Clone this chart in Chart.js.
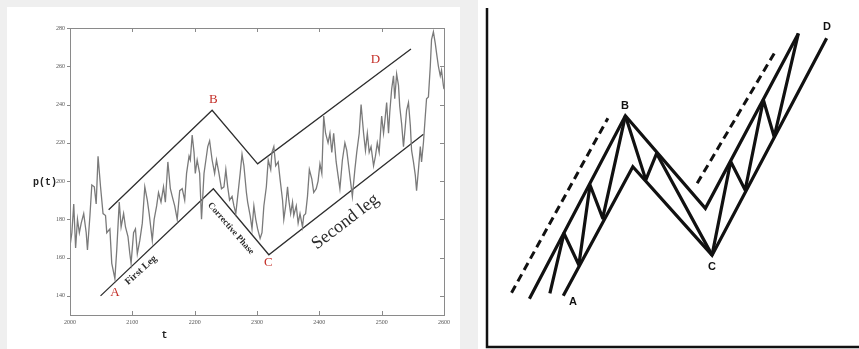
<!DOCTYPE html>
<html>
<head>
<meta charset="utf-8">
<script src="https://cdn.jsdelivr.net/npm/chart.js@4/dist/chart.umd.min.js"></script>
<style>
  html, body { margin: 0; padding: 0; width: 859px; height: 349px; overflow: hidden; background: #efefef; }
  #leftPanel { position: absolute; left: 7px; top: 7px; width: 453px; height: 342px; background: #ffffff; }
  #rightPanel { position: absolute; left: 478px; top: 0; width: 381px; height: 349px; background: #ffffff; }
  #priceChart { position: absolute; left: 0; top: 0; }
  #waveChart { position: absolute; left: 480px; top: 0; }
</style>
</head>
<body>
<div id="leftPanel"></div>
<div id="rightPanel"></div>
<canvas id="priceChart" width="460" height="349" style="width:460px;height:349px"></canvas>
<canvas id="waveChart" width="379" height="349" style="width:379px;height:349px"></canvas>

<script>
// ---- price path p(t) ----
const tValues = [2000,2003,2006,2009,2012,2015,2018,2022,2026,2028,2032,2035,2039,2042,2045,2049,2053,2057,2059,2064,
  2067,2072,2075,2079,2082,2086,2089,2093,2096,2098,2102,2105,2108,2112,2116,2120,2124,2127,2132,2135,
  2139,2142,2146,2150,2153,2157,2161,2164,2168,2172,2176,2180,2184,2187,2191,2193,2196,2199,2201,2204,
  2208,2211,2215,2218,2221,2224,2228,2232,2235,2239,2243,2247,2250,2253,2256,2260,2263,2266,2269,2273,
  2276,2279,2283,2285,2289,2292,2295,2298,2301,2305,2308,2311,2315,2318,2322,2324,2327,2330,2334,2337,
  2341,2343,2346,2349,2351,2354,2357,2359,2363,2366,2369,2373,2375,2378,2381,2384,2388,2391,2395,2398,
  2401,2404,2407,2410,2414,2417,2420,2423,2427,2430,2433,2437,2441,2444,2447,2450,2453,2457,2460,2464,
  2467,2471,2474,2477,2480,2483,2487,2490,2493,2496,2500,2503,2505,2508,2511,2513,2516,2519,2521,2524,
  2527,2529,2532,2535,2538,2540,2543,2546,2548,2551,2554,2556,2559,2562,2564,2567,2570,2572,2575,2578,
  2580,2583,2586,2588,2591,2594,2596,2599,2600];
const pValues = [166,173,188,165,180,173,178,183,173,164,182,198,197,188,213,197,183,182,173,175,
  157,149,164,189,176,183,176,171,162,157,173,175,162,169,178,197,190,183,169,180,
  187,194,189,197,189,210,196,192,187,180,195,196,190,204,213,211,224,215,204,211,
  204,180,204,211,218,221,211,204,211,204,196,197,206,197,190,192,187,183,192,204,
  214,208,194,189,182,175,187,180,175,170,173,187,197,211,206,215,218,208,210,201,
  190,180,187,197,190,183,189,182,187,178,183,176,182,183,192,206,201,194,196,200,
  209,204,234,225,220,225,215,225,210,203,196,211,220,216,208,200,192,206,215,225,
  240,225,216,225,215,218,208,213,220,215,234,225,231,241,225,236,248,255,243,256,
  250,239,230,218,229,237,241,229,216,210,203,195,206,218,210,220,234,243,244,260,
  274,278,272,267,260,255,258,250,248];

// channel boundaries drawn over the path
const upperChannelT = [2062, 2228, 2301, 2547];
const upperChannelP = [185, 237, 209, 269];
const lowerChannelT = [2049, 2230, 2319, 2567];
const lowerChannelP = [140, 196, 161.5, 224.5];

// turning-point letters
const markLabels = ['A', 'B', 'C', 'D'];
const markT = [2072, 2230, 2318, 2490];
const markP = [141.6, 242.6, 157.3, 263.5];

// phase captions along the channel
const phaseLabels = ['First Leg', 'Corrective Phase', 'Second leg'];
const phaseT = [2114, 2258, 2442];
const phaseP = [153.4, 175.2, 178.7];

// axis ticks
const tTicks = [2000, 2100, 2200, 2300, 2400, 2500, 2600];
const pTicks = [140, 160, 180, 200, 220, 240, 260, 280];

// ---- schematic wave (right) ----
const dashLeftX = [6.6, 32.5],  dashLeftY = [16.0, 67.5];
const dashRightX = [56.5, 77.2], dashRightY = [48.3, 86.6];
const upperEdgeX = [11.4, 37.2, 58.7, 83.7], upperEdgeY = [14.2, 68.2, 40.9, 92.5];
const lowerEdgeX = [20.5, 39.2, 60.5, 91.3], lowerEdgeY = [15.1, 53.2, 27.1, 91.1];
const firstLegX = [16.9, 20.7, 24.7, 27.7, 31.1, 37.2], firstLegY = [15.8, 33.5, 24.2, 47.8, 38.0, 68.2];
const correctionX = [37.2, 42.7, 45.6, 60.5], correctionY = [68.2, 49.3, 57.1, 27.1];
const secondLegX = [60.5, 65.5, 69.4, 74.3, 77.2, 83.7], secondLegY = [27.1, 54.7, 46.3, 72.9, 62.0, 92.5];
const waveLabels = ['A', 'B', 'C', 'D'];
const waveLabelX = [23.1, 37.1, 60.5, 91.4];
const waveLabelY = [13.3, 71.1, 23.6, 94.4];

const pairs = (xs, ys) => xs.map((x, i) => ({ x: x, y: ys[i] }));

// box around the plot with inward tick marks, plus axis names
const framePlugin = {
  id: 'frame',
  afterDraw(chart) {
    const { ctx, chartArea: a, scales: { x, y } } = chart;
    ctx.save();
    ctx.strokeStyle = '#8a8a8a';
    ctx.lineWidth = 1;
    ctx.strokeRect(Math.round(a.left) + 0.5, Math.round(a.top) + 0.5,
                   Math.round(a.right - a.left), Math.round(a.bottom - a.top));
    ctx.beginPath();
    tTicks.forEach(v => {
      const px = Math.round(x.getPixelForValue(v)) + 0.5;
      ctx.moveTo(px, a.top); ctx.lineTo(px, a.top + 4);
      ctx.moveTo(px, a.bottom); ctx.lineTo(px, a.bottom - 4);
    });
    pTicks.forEach(v => {
      const py = Math.round(y.getPixelForValue(v)) + 0.5;
      ctx.moveTo(a.left - 3, py); ctx.lineTo(a.left, py);
      ctx.moveTo(a.right, py); ctx.lineTo(a.right - 4, py);
    });
    ctx.stroke();
    ctx.fillStyle = '#222';
    ctx.font = 'bold 10px "Liberation Mono"';
    ctx.textBaseline = 'middle';
    ctx.textAlign = 'left';
    ctx.fillText('p(t)', 33, y.getPixelForValue(200) + 1);
    ctx.textAlign = 'center';
    ctx.fillText('t', (x.getPixelForValue(2300) + x.getPixelForValue(2000)) / 2 + 1, 335);
    ctx.restore();
  }
};

// letters at turning points and captions along the legs
const notesPlugin = {
  id: 'notes',
  afterDatasetsDraw(chart) {
    const { ctx, scales: { x, y } } = chart;
    ctx.save();
    ctx.textAlign = 'center';
    ctx.textBaseline = 'middle';
    ctx.fillStyle = '#c42e27';
    ctx.font = '13px "Liberation Serif"';
    markLabels.forEach((s, i) => ctx.fillText(s, x.getPixelForValue(markT[i]), y.getPixelForValue(markP[i])));
    const fonts = ['bold 10px "Liberation Serif"', 'bold 9px "Liberation Serif"', '18px "Liberation Serif"'];
    const angles = [-42, 49, -37.5];
    ctx.fillStyle = '#2a2a2a';
    phaseLabels.forEach((s, i) => {
      ctx.save();
      ctx.translate(x.getPixelForValue(phaseT[i]), y.getPixelForValue(phaseP[i]));
      ctx.rotate(angles[i] * Math.PI / 180);
      ctx.font = fonts[i];
      ctx.fillText(s, 0, 0);
      ctx.restore();
    });
    ctx.restore();
  }
};

new Chart(document.getElementById('priceChart'), {
  type: 'line',
  data: {
    datasets: [
      { data: pairs(tValues, pValues), borderColor: '#7a7a7a', borderWidth: 1.3 },
      { data: pairs(upperChannelT, upperChannelP), borderColor: '#2e2e2e', borderWidth: 1.3 },
      { data: pairs(lowerChannelT, lowerChannelP), borderColor: '#2e2e2e', borderWidth: 1.3 }
    ]
  },
  options: {
    responsive: false,
    animation: false,
    devicePixelRatio: 1,
    layout: { padding: { left: 0, right: 16, top: 28, bottom: 0 } },
    elements: { point: { radius: 0 }, line: { tension: 0, fill: false } },
    plugins: { legend: { display: false }, tooltip: { enabled: false } },
    scales: {
      x: {
        type: 'linear', min: 2000, max: 2600,
        afterBuildTicks: s => { s.ticks = tTicks.map(v => ({ value: v })); },
        afterFit: s => { s.height = 34; },
        grid: { display: true, drawOnChartArea: false, drawTicks: false, color: 'rgba(0,0,0,0)' },
        border: { display: false },
        ticks: { font: { family: 'Liberation Serif', size: 6 }, color: '#555', padding: 4, maxRotation: 0, autoSkip: false,
                 callback: v => String(v) }
      },
      y: {
        type: 'linear', min: 130, max: 280,
        afterBuildTicks: s => { s.ticks = pTicks.map(v => ({ value: v })); },
        afterFit: s => { s.width = 70; },
        grid: { display: true, drawOnChartArea: false, drawTicks: false, color: 'rgba(0,0,0,0)' },
        border: { display: false },
        ticks: { font: { family: 'Liberation Serif', size: 6 }, color: '#555', padding: 5, autoSkip: false,
                 callback: v => String(v) }
      }
    }
  },
  plugins: [framePlugin, notesPlugin]
});

// ---- schematic chart ----
const axesPlugin = {
  id: 'waveAxes',
  afterDatasetsDraw(chart) {
    const { ctx, chartArea: a, scales: { x, y } } = chart;
    ctx.save();
    ctx.strokeStyle = '#111';
    ctx.lineWidth = 2.5;
    ctx.beginPath();
    ctx.moveTo(a.left, a.top);
    ctx.lineTo(a.left, a.bottom);
    ctx.lineTo(a.right, a.bottom);
    ctx.stroke();
    ctx.fillStyle = '#111';
    ctx.font = 'bold 11px "Liberation Sans"';
    ctx.textAlign = 'center';
    ctx.textBaseline = 'middle';
    waveLabels.forEach((s, i) => ctx.fillText(s, x.getPixelForValue(waveLabelX[i]), y.getPixelForValue(waveLabelY[i])));
    ctx.restore();
  }
};

const solid = (xs, ys, join) => ({ data: pairs(xs, ys), borderColor: '#111', borderWidth: 3.2, borderJoinStyle: join, borderCapStyle: 'butt' });
const dashed = (xs, ys) => ({ data: pairs(xs, ys), borderColor: '#111', borderWidth: 3, borderDash: [8, 5] });

new Chart(document.getElementById('waveChart'), {
  type: 'line',
  data: {
    datasets: [
      dashed(dashLeftX, dashLeftY),
      dashed(dashRightX, dashRightY),
      solid(upperEdgeX, upperEdgeY, 'miter'),
      solid(lowerEdgeX, lowerEdgeY, 'miter'),
      solid(firstLegX, firstLegY, 'round'),
      solid(correctionX, correctionY, 'round'),
      solid(secondLegX, secondLegY, 'round')
    ]
  },
  options: {
    responsive: false,
    animation: false,
    devicePixelRatio: 1,
    layout: { padding: { left: 7, right: 0, top: 8, bottom: 2 } },
    elements: { point: { radius: 0 }, line: { tension: 0, fill: false } },
    plugins: { legend: { display: false }, tooltip: { enabled: false } },
    scales: {
      x: { type: 'linear', min: 0, max: 100, display: false },
      y: { type: 'linear', min: 0, max: 100, display: false }
    }
  },
  plugins: [axesPlugin]
});
</script>
</body>
</html>
